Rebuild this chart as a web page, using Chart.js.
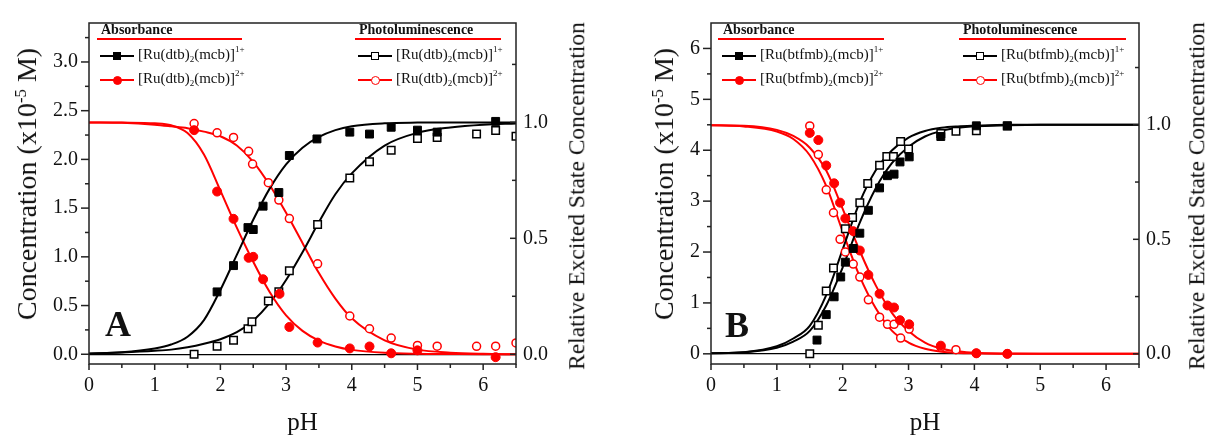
<!DOCTYPE html>
<html><head><meta charset="utf-8">
<script src="https://cdn.jsdelivr.net/npm/chart.js@4.4.1/dist/chart.umd.min.js"></script>
<style>
html,body{margin:0;padding:0;background:#fff;}
#wrap{position:relative;width:1208px;height:436px;overflow:hidden;font-family:"Liberation Serif","Times New Roman",serif;color:#111;}
canvas{position:absolute;top:0;}
.hdr{position:absolute;font-weight:bold;font-size:14px;line-height:1;white-space:nowrap;}
.uline{position:absolute;height:2px;background:#ff0000;}
.ent{position:absolute;font-size:15px;line-height:1;white-space:nowrap;}
.ent sub{font-size:9px;vertical-align:-3px;line-height:0;}
.ent sup{font-size:9px;vertical-align:7px;line-height:0;}
.samp{position:absolute;height:2px;}
.mk{position:absolute;box-sizing:border-box;}
.big{position:absolute;font-weight:bold;font-size:36px;line-height:1;}
.vt{position:absolute;white-space:nowrap;line-height:1;transform:translate(-50%,-50%) rotate(-90deg);}
.vt sup{font-size:60%;vertical-align:super;line-height:0;}
</style>
</head><body>
<div id="wrap">
<canvas id="cA" width="604" height="436" style="left:0px"></canvas>
<canvas id="cB" width="604" height="436" style="left:604px"></canvas>
</div>
<script>
// ---------------- Panel A data ----------------
const A_abs1_pH = [1.95,2.20,2.42,2.50,2.65,2.89,3.05,3.47,3.97,4.27,4.60,5.00,5.30,6.19];
const A_abs1_c  = [0.64,0.91,1.30,1.28,1.52,1.66,2.04,2.21,2.28,2.26,2.33,2.30,2.28,2.39];
const A_abs2_pH = [1.60,1.95,2.20,2.43,2.50,2.65,2.90,3.05,3.48,3.97,4.27,4.60,5.00,6.19];
const A_abs2_c  = [2.30,1.67,1.39,0.99,1.00,0.77,0.62,0.28,0.12,0.06,0.08,0.01,0.04,-0.03];
const A_pl1_pH  = [1.60,1.95,2.20,2.42,2.48,2.73,2.89,3.05,3.48,3.97,4.27,4.60,5.00,5.30,5.90,6.19,6.50];
const A_pl1_r   = [0.00,0.035,0.06,0.11,0.14,0.23,0.27,0.36,0.56,0.76,0.83,0.88,0.93,0.935,0.95,0.965,0.94];
const A_pl2_pH  = [1.60,1.95,2.20,2.43,2.49,2.73,2.89,3.05,3.48,3.97,4.27,4.60,5.00,5.30,5.90,6.19,6.50];
const A_pl2_r   = [0.995,0.955,0.935,0.875,0.82,0.74,0.665,0.585,0.39,0.165,0.11,0.07,0.038,0.035,0.034,0.035,0.049];
// fitted curves
const A_fit_pH   = [0,0.5,1,1.25,1.5,1.75,2,2.25,2.5,2.75,3,3.25,3.5,3.75,4,4.5,5,5.5,6,6.5];
const A_fit_abs1 = [0.005,0.02,0.06,0.10,0.18,0.35,0.66,1.02,1.38,1.70,1.95,2.12,2.23,2.30,2.34,2.37,2.378,2.38,2.38,2.38];
const A_fit_abs2 = [2.38,2.378,2.37,2.35,2.27,2.05,1.68,1.30,0.95,0.64,0.40,0.24,0.14,0.08,0.045,0.015,0.005,0.002,0,0];
const A_fit_pl1  = [0.003,0.008,0.015,0.02,0.03,0.045,0.065,0.095,0.145,0.22,0.32,0.44,0.57,0.69,0.78,0.90,0.955,0.978,0.99,0.995];
const A_fit_pl2  = [1.0,0.998,0.99,0.983,0.975,0.96,0.94,0.90,0.83,0.73,0.61,0.48,0.35,0.24,0.155,0.06,0.02,0.007,0.002,0.0];

// ---------------- Panel B data ----------------
const B_abs1_pH = [1.61,1.75,1.87,1.97,2.04,2.16,2.26,2.39,2.56,2.68,2.78,2.87,3.01,3.49,4.03,4.50];
const B_abs1_c  = [0.27,0.77,1.12,1.51,1.80,2.07,2.37,2.82,3.26,3.50,3.53,3.77,3.87,4.27,4.48,4.48];
const B_abs2_pH = [1.50,1.63,1.75,1.87,1.96,2.04,2.16,2.26,2.39,2.56,2.68,2.78,2.87,3.01,3.49,4.03,4.50];
const B_abs2_c  = [4.34,4.20,3.70,3.35,2.97,2.66,2.41,2.03,1.55,1.18,0.95,0.91,0.66,0.58,0.16,0.01,0.00];
const B_pl1_pH  = [1.50,1.63,1.75,1.86,2.04,2.15,2.26,2.38,2.56,2.67,2.77,2.88,3.00,3.49,3.72,4.03,4.50];
const B_pl1_r   = [0.0,0.125,0.274,0.375,0.546,0.595,0.66,0.744,0.823,0.862,0.862,0.927,0.894,0.962,0.972,0.974,0.995];
const B_pl2_pH  = [1.50,1.63,1.75,1.86,1.96,2.04,2.16,2.26,2.39,2.56,2.68,2.78,2.88,3.01,3.49,3.72,4.03,4.50];
const B_pl2_r   = [0.995,0.87,0.716,0.616,0.50,0.445,0.392,0.335,0.236,0.16,0.129,0.129,0.069,0.108,0.029,0.018,0.003,0.0];
const B_fit_pH   = [0,0.5,1,1.25,1.5,1.75,2,2.25,2.5,2.75,3,3.25,3.5,3.75,4,4.5,5,5.5,6,6.5];
const B_fit_abs1 = [0.01,0.03,0.12,0.24,0.45,0.95,1.70,2.55,3.25,3.75,4.07,4.27,4.38,4.44,4.47,4.49,4.5,4.5,4.5,4.5];
const B_fit_abs2 = [4.49,4.48,4.40,4.28,4.05,3.60,2.85,2.05,1.35,0.80,0.45,0.22,0.10,0.05,0.02,0.005,0,0,0,0];
const B_fit_pl1  = [0.002,0.007,0.033,0.067,0.122,0.256,0.456,0.656,0.80,0.889,0.944,0.973,0.987,0.993,0.996,1.0,1.0,1.0,1.0,1.0];
const B_fit_pl2  = [0.998,0.993,0.971,0.938,0.867,0.733,0.533,0.344,0.20,0.10,0.049,0.022,0.009,0.004,0.002,0,0,0,0,0];

// ---------------- ticks ----------------
const X_major = [0,1,2,3,4,5,6];
const X_minor = [0.5,1.5,2.5,3.5,4.5,5.5,6.5];
const A_y_major = [0,0.5,1.0,1.5,2.0,2.5,3.0];
const A_y_minor = [0.25,0.75,1.25,1.75,2.25,2.75,3.25];
const B_y_major = [0,1,2,3,4,5,6];
const B_y_minor = [0.5,1.5,2.5,3.5,4.5,5.5];
const R_major = [0,0.5,1.0];
const R_minor = [0.25,0.75,1.25];

const FONT = "'Liberation Serif','Times New Roman',serif";
const BLACK = '#000000', RED = '#ff0000';

const pts = (xs, ys) => xs.map((x, i) => ({x: x, y: ys[i]}));

const tickPlugin = {
  id: 'tickPlugin',
  afterDraw(chart, args, o) {
    const {ctx, chartArea: {left, right, top, bottom}, scales} = chart;
    ctx.save();
    ctx.strokeStyle = '#222'; ctx.lineWidth = 1.5;
    ctx.strokeRect(left, top, right - left, bottom - top);
    const seg = (x1, y1, x2, y2) => { ctx.beginPath(); ctx.moveTo(x1, y1); ctx.lineTo(x2, y2); ctx.stroke(); };
    o.xMajor.forEach(v => { const x = scales.x.getPixelForValue(v); seg(x, bottom, x, bottom + 6); });
    o.xMinor.forEach(v => { const x = scales.x.getPixelForValue(v); seg(x, bottom, x, bottom + 4); });
    o.yMajor.forEach(v => { const y = scales.y.getPixelForValue(v); seg(left - 8, y, left, y); });
    o.yMinor.forEach(v => { const y = scales.y.getPixelForValue(v); seg(left - 4, y, left, y); });
    o.rMajor.forEach(v => { const y = scales.y2.getPixelForValue(v); seg(right - 6, y, right, y); });
    o.rMinor.forEach(v => { const y = scales.y2.getPixelForValue(v); seg(right - 4, y, right, y); });
    ctx.restore();
  }
};

function makePanel(id, P) {
  const lineDs = (xs, ys, col, axis) => ({
    data: pts(xs, ys), yAxisID: axis, borderColor: col, borderWidth: 2, pointRadius: 0,
    cubicInterpolationMode: 'monotone', fill: false, order: 3, clip: 0
  });
  const ptDs = (xs, ys, col, axis, style, open) => ({
    data: pts(xs, ys), yAxisID: axis, showLine: false, pointStyle: style,
    pointRadius: style === 'rect' ? (open ? 5.3 : 5.6) : (open ? 4.0 : 4.5),
    pointBorderWidth: open ? 1.5 : 1,
    pointBackgroundColor: open ? '#ffffff' : col, pointBorderColor: col,
    borderColor: col, backgroundColor: col, order: 1, clip: 0
  });
  const datasets = [
    ptDs(P.abs1x, P.abs1y, BLACK, 'y', 'rect', false),
    ptDs(P.abs2x, P.abs2y, RED, 'y', 'circle', false),
    ptDs(P.pl1x, P.pl1y, BLACK, 'y2', 'rect', true),
    ptDs(P.pl2x, P.pl2y, RED, 'y2', 'circle', true),
    lineDs(P.fitx, P.fitAbs1, BLACK, 'y'),
    lineDs(P.fitx, P.fitAbs2, RED, 'y'),
    lineDs(P.fitx, P.fitPl1, BLACK, 'y2'),
    lineDs(P.fitx, P.fitPl2, RED, 'y2')
  ];
  const tickFont = {family: FONT, size: 20, lineHeight: 1.2};
  new Chart(document.getElementById(id), {
    type: 'line',
    data: {datasets: datasets},
    plugins: [tickPlugin],
    options: {
      responsive: false, animation: false, devicePixelRatio: 1,
      layout: {padding: {top: P.padTop, left: 0, right: 0, bottom: 0}},
      plugins: {legend: {display: false}, tooltip: {enabled: false},
        tickPlugin: {xMajor: X_major, xMinor: X_minor, yMajor: P.yMajor, yMinor: P.yMinor, rMajor: R_major, rMinor: R_minor}},
      scales: {
        x: {
          type: 'linear', position: 'bottom', min: 0, max: 6.5,
          afterBuildTicks: s => { s.ticks = X_major.map(v => ({value: v})); },
          ticks: {padding: 10, font: tickFont, color: '#111', maxRotation: 0, autoSkip: false, callback: v => String(v)},
          grid: {display: false, drawTicks: false}, border: {display: false},
          title: {display: true, text: 'pH', color: '#111', font: {family: FONT, size: 25, lineHeight: 1}, padding: {top: 0, bottom: 0}},
          afterFit: s => { s.height = 72; }
        },
        y: {
          type: 'linear', position: 'left', min: P.yMin, max: P.yMax,
          afterBuildTicks: s => { s.ticks = P.yMajor.map(v => ({value: v})); },
          ticks: {padding: 11, font: tickFont, color: '#111', autoSkip: false, callback: P.yFmt},
          grid: {drawTicks: false, lineWidth: 1.3, color: c => (c.tick && c.tick.value === 0) ? '#000' : 'rgba(0,0,0,0)'},
          border: {display: false},
          afterFit: s => { s.width = P.leftW; }
        },
        y2: {
          type: 'linear', position: 'right', min: P.yMin / P.ratio, max: P.yMax / P.ratio,
          afterBuildTicks: s => { s.ticks = R_major.map(v => ({value: v})); },
          ticks: {padding: 7, font: tickFont, color: '#111', autoSkip: false, callback: v => v.toFixed(1)},
          grid: {display: false, drawTicks: false}, border: {display: false},
          afterFit: s => { s.width = P.rightW; }
        }
      }
    }
  });
}

makePanel('cA', {
  abs1x: A_abs1_pH, abs1y: A_abs1_c, abs2x: A_abs2_pH, abs2y: A_abs2_c,
  pl1x: A_pl1_pH, pl1y: A_pl1_r, pl2x: A_pl2_pH, pl2y: A_pl2_r,
  fitx: A_fit_pH, fitAbs1: A_fit_abs1, fitAbs2: A_fit_abs2, fitPl1: A_fit_pl1, fitPl2: A_fit_pl2,
  yMin: -0.1, yMax: 3.4, ratio: 2.38, yMajor: A_y_major, yMinor: A_y_minor, yFmt: v => v.toFixed(1),
  padTop: 17, leftW: 89, rightW: 88
});
makePanel('cB', {
  abs1x: B_abs1_pH, abs1y: B_abs1_c, abs2x: B_abs2_pH, abs2y: B_abs2_c,
  pl1x: B_pl1_pH, pl1y: B_pl1_r, pl2x: B_pl2_pH, pl2y: B_pl2_r,
  fitx: B_fit_pH, fitAbs1: B_fit_abs1, fitAbs2: B_fit_abs2, fitPl1: B_fit_pl1, fitPl2: B_fit_pl2,
  yMin: -0.2, yMax: 6.5, ratio: 4.5, yMajor: B_y_major, yMinor: B_y_minor, yFmt: v => String(v),
  padTop: 16, leftW: 107, rightW: 69
});

// ---------------- HTML annotations (legends, titles, panel letters) ----------------
const LEG_HEAD = ['Absorbance', 'Photoluminescence'];
const LIGANDS = ['dtb', 'btfmb'];
const CHARGES = ['1+', '2+'];
const wrap = document.getElementById('wrap');
function add(html) { wrap.insertAdjacentHTML('beforeend', html); }

function legend(L, lig) {
  add(`<div class="hdr" style="left:${L.h1}px;top:23px">${LEG_HEAD[0]}</div>`);
  add(`<div class="uline" style="left:${L.u1[0]}px;width:${L.u1[1]}px;top:38px"></div>`);
  add(`<div class="hdr" style="left:${L.h2}px;top:23px">${LEG_HEAD[1]}</div>`);
  add(`<div class="uline" style="left:${L.u2[0]}px;width:${L.u2[1]}px;top:38px"></div>`);
  const rows = [56, 80];
  [[L.s1, false], [L.s2, true]].forEach(([sx, open]) => {
    rows.forEach((ry, i) => {
      const col = i === 0 ? BLACK : RED;
      add(`<div class="samp" style="left:${sx}px;width:34px;top:${ry - 1}px;background:${col}"></div>`);
      const mc = sx + 17;
      if (i === 0) {
        add(`<div class="mk" style="left:${mc - 4}px;top:${ry - 4}px;width:8px;height:8px;background:${open ? '#fff' : col};border:1.5px solid ${col}"></div>`);
      } else {
        add(`<div class="mk" style="left:${mc - 4.5}px;top:${ry - 4.5}px;width:9px;height:9px;border-radius:50%;background:${open ? '#fff' : col};border:1.5px solid ${col}"></div>`);
      }
      add(`<div class="ent" style="left:${sx + 38}px;top:${ry - 9}px">[Ru(${lig})<sub>2</sub>(mcb)]<sup>${CHARGES[i]}</sup></div>`);
    });
  });
}
legend({h1: 101, u1: [97, 145], h2: 359, u2: [355, 146], s1: 100, s2: 358}, LIGANDS[0]);
legend({h1: 723, u1: [718, 166], h2: 963, u2: [959, 167], s1: 722, s2: 963}, LIGANDS[1]);

add(`<div class="big" style="left:105px;top:306px">A</div>`);
add(`<div class="big" style="left:725px;top:307px">B</div>`);

const Y_TITLE = 'Concentration (x10<sup>-5</sup> M)';
const R_TITLE = 'Relative Excited State Concentration';
add(`<div class="vt" style="left:27px;top:184px;font-size:28px">${Y_TITLE}</div>`);
add(`<div class="vt" style="left:664px;top:184px;font-size:28px">${Y_TITLE}</div>`);
add(`<div class="vt" style="left:577px;top:196px;font-size:23.5px">${R_TITLE}</div>`);
add(`<div class="vt" style="left:1197px;top:196px;font-size:23.5px">${R_TITLE}</div>`);
</script>
</body></html>
